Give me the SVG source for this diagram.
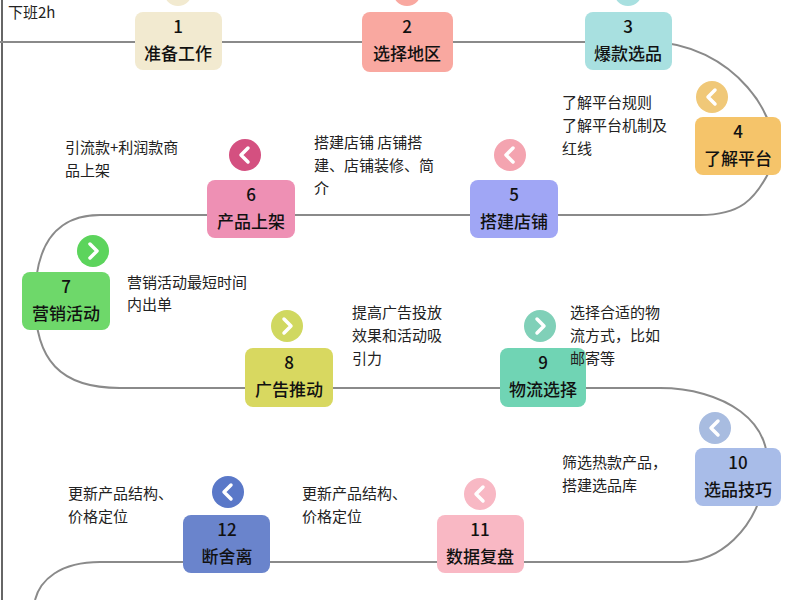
<svg xmlns="http://www.w3.org/2000/svg" width="800" height="600" viewBox="0 0 800 600">
<defs><style>
.n{font-family:"Noto Sans CJK SC","Liberation Sans",sans-serif;font-size:17px;fill:#111;text-anchor:middle;font-weight:500}
.t{font-family:"Noto Sans CJK SC","Liberation Sans",sans-serif;font-size:15px;fill:#222}
.b{stroke:#fff;stroke-width:3.5;fill:none;stroke-linecap:round;stroke-linejoin:round}
</style></defs>
<rect width="800" height="600" fill="#fff"/>
<line x1="2" y1="0" x2="2" y2="600" stroke="#333" stroke-width="1.5"/>
<g id="connectors"><path d="M0,42 L650,42 C730,42 790,120 770,170 C755,200 740,215 700,215 L100,215 C60,215 35,240 35,300 C35,360 60,388 120,388 L660,388 C720,388 780,420 765,480 C755,530 720,562 680,562 L100,562 C60,562 40,580 35,600" fill="none" stroke="#8a8a8a" stroke-width="2"/></g>
<text class="t" x="8" y="18">下班2h</text>
<circle cx="178" cy="-8" r="14" fill="#f2ead0"/><circle cx="407" cy="-8" r="14" fill="#f9a8a0"/><circle cx="628" cy="-8" r="14" fill="#a8e0e0"/>
<g id="n1"><rect x="135" y="12" width="87" height="58" rx="8" fill="#f2ead0"/><text class="n" x="178" y="33">1</text><text class="n" x="178" y="60">准备工作</text></g>
<g id="n2"><rect x="362" y="12" width="91" height="60" rx="8" fill="#f9a8a0"/><text class="n" x="407" y="33">2</text><text class="n" x="407" y="60">选择地区</text></g>
<g id="n3"><rect x="585" y="12" width="87" height="58" rx="8" fill="#a8e0e0"/><text class="n" x="628" y="33">3</text><text class="n" x="628" y="60">爆款选品</text></g>
<g id="n4"><rect x="695" y="117" width="86" height="58" rx="8" fill="#f5c46a"/><text class="n" x="738" y="138">4</text><text class="n" x="738" y="165">了解平台</text>
<circle cx="712" cy="97" r="16" fill="#f0c878"/><path class="b" d="M715,90 L708,97 L715,104"/>
<text class="t" x="562" y="108">了解平台规则</text><text class="t" x="562" y="131">了解平台机制及</text><text class="t" x="562" y="154">红线</text></g>
<g id="n5"><rect x="470" y="180" width="88" height="58" rx="8" fill="#a0a6f5"/><text class="n" x="514" y="201">5</text><text class="n" x="514" y="228">搭建店铺</text>
<circle cx="510" cy="155" r="16" fill="#f4a4b0"/><path class="b" d="M513,148 L506,155 L513,162"/>
<text class="t" x="314" y="148">搭建店铺 店铺搭</text><text class="t" x="314" y="171">建、店铺装修、简</text><text class="t" x="314" y="194">介</text></g>
<g id="n6"><rect x="207" y="180" width="88" height="58" rx="8" fill="#ee90b4"/><text class="n" x="251" y="201">6</text><text class="n" x="251" y="228">产品上架</text>
<circle cx="245" cy="155" r="16" fill="#d45080"/><path class="b" d="M248,148 L241,155 L248,162"/>
<text class="t" x="65" y="153">引流款+利润款商</text><text class="t" x="65" y="176">品上架</text></g>
<g id="n7"><rect x="22" y="272" width="88" height="58" rx="8" fill="#6ed86a"/><text class="n" x="66" y="293">7</text><text class="n" x="66" y="320">营销活动</text>
<circle cx="93" cy="251" r="16" fill="#5cd45c"/><path class="b" d="M90,244 L97,251 L90,258"/>
<text class="t" x="127" y="288">营销活动最短时间</text><text class="t" x="127" y="310">内出单</text></g>
<g id="n8"><rect x="245" y="348" width="88" height="59" rx="8" fill="#d8d860"/><text class="n" x="289" y="369">8</text><text class="n" x="289" y="396">广告推动</text>
<circle cx="287" cy="326" r="16" fill="#d0d860"/><path class="b" d="M284,319 L291,326 L284,333"/>
<text class="t" x="352" y="318">提高广告投放</text><text class="t" x="352" y="341">效果和活动吸</text><text class="t" x="352" y="364">引力</text></g>
<g id="n9"><rect x="500" y="348" width="86" height="59" rx="8" fill="#70d4b4"/><text class="n" x="543" y="369">9</text><text class="n" x="543" y="396">物流选择</text>
<circle cx="540" cy="326" r="16" fill="#80d0b8"/><path class="b" d="M537,319 L544,326 L537,333"/>
<text class="t" x="570" y="318">选择合适的物</text><text class="t" x="570" y="341">流方式，比如</text><text class="t" x="570" y="364">邮寄等</text></g>
<g id="n10"><rect x="695" y="448" width="86" height="58" rx="8" fill="#a8bce8"/><text class="n" x="738" y="469">10</text><text class="n" x="738" y="496">选品技巧</text>
<circle cx="715" cy="428" r="16" fill="#a8bce0"/><path class="b" d="M718,421 L711,428 L718,435"/>
<text class="t" x="562" y="468">筛选热款产品，</text><text class="t" x="562" y="491">搭建选品库</text></g>
<g id="n11"><rect x="437" y="515" width="87" height="58" rx="8" fill="#f9b8c4"/><text class="n" x="480" y="536">11</text><text class="n" x="480" y="563">数据复盘</text>
<circle cx="480" cy="494" r="16" fill="#f8b8c4"/><path class="b" d="M483,487 L476,494 L483,501"/>
<text class="t" x="302" y="499">更新产品结构、</text><text class="t" x="302" y="522">价格定位</text></g>
<g id="n12"><rect x="183" y="515" width="87" height="58" rx="8" fill="#6a84cc"/><text class="n" x="227" y="536">12</text><text class="n" x="227" y="563">断舍离</text>
<circle cx="228" cy="492" r="16" fill="#5a78c8"/><path class="b" d="M231,485 L224,492 L231,499"/>
<text class="t" x="68" y="499">更新产品结构、</text><text class="t" x="68" y="522">价格定位</text></g>
</svg>
